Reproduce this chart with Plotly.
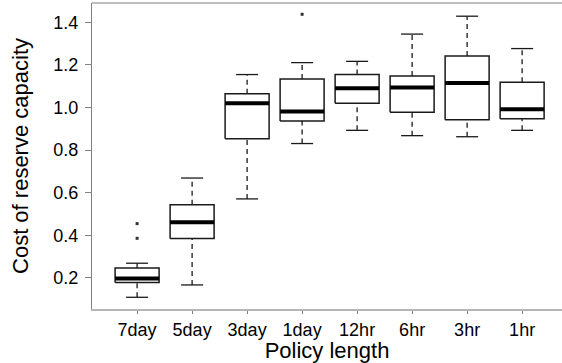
import plotly.graph_objects as go

# Summary statistics per policy length
categories = ["7day", "5day", "3day", "1day", "12hr", "6hr", "3hr", "1hr"]
lower_whisker = [0.109, 0.167, 0.571, 0.831, 0.893, 0.868, 0.863, 0.893]
q1 = [0.178, 0.385, 0.853, 0.937, 1.020, 0.978, 0.943, 0.948]
median = [0.197, 0.461, 1.020, 0.981, 1.091, 1.094, 1.115, 0.992]
q3 = [0.247, 0.543, 1.065, 1.134, 1.155, 1.148, 1.242, 1.119]
upper_whisker = [0.269, 0.669, 1.155, 1.211, 1.217, 1.345, 1.429, 1.277]
outlier_cat = ["7day", "7day", "1day"]
outlier_val = [0.386, 0.455, 1.438]
y_ticks = [0.2, 0.4, 0.6, 0.8, 1.0, 1.2, 1.4]

positions = list(range(1, len(categories) + 1))
half_box = 0.4
half_cap = 0.2
line_col = "#1a1a1a"

fig = go.Figure()

# Dashed whiskers
wx, wy = [], []
for p, lo, a, b, hi in zip(positions, lower_whisker, q1, q3, upper_whisker):
    wx += [p, p, None, p, p, None]
    wy += [lo, a, None, b, hi, None]
fig.add_trace(go.Scatter(x=wx, y=wy, mode="lines",
                         line=dict(color=line_col, width=1.3, dash="5px,4px"),
                         hoverinfo="skip", showlegend=False))

# Whisker caps
cx, cy = [], []
for p, lo, hi in zip(positions, lower_whisker, upper_whisker):
    cx += [p - half_cap, p + half_cap, None, p - half_cap, p + half_cap, None]
    cy += [lo, lo, None, hi, hi, None]
fig.add_trace(go.Scatter(x=cx, y=cy, mode="lines",
                         line=dict(color=line_col, width=1.3),
                         hoverinfo="skip", showlegend=False))

# Boxes
for p, a, b in zip(positions, q1, q3):
    fig.add_trace(go.Scatter(
        x=[p - half_box, p + half_box, p + half_box, p - half_box, p - half_box],
        y=[a, a, b, b, a], mode="lines", fill="toself", fillcolor="white",
        line=dict(color=line_col, width=1.5), hoverinfo="skip", showlegend=False))

# Medians
mx, my = [], []
for p, m in zip(positions, median):
    mx += [p - half_box, p + half_box, None]
    my += [m, m, None]
fig.add_trace(go.Scatter(x=mx, y=my, mode="lines",
                         line=dict(color="black", width=4),
                         hoverinfo="skip", showlegend=False))

# Outliers
fig.add_trace(go.Scatter(
    x=[positions[categories.index(c)] for c in outlier_cat], y=outlier_val,
    mode="markers", marker=dict(symbol="square", size=3, color="#333333"),
    hoverinfo="skip", showlegend=False))

fig.add_shape(type="line", xref="paper", yref="paper", x0=0, x1=1, y0=1, y1=1,
              line=dict(color="#808080", width=1.2))

fig.update_layout(
    width=562, height=363,
    margin=dict(l=92, r=0, t=3, b=54),
    paper_bgcolor="white", plot_bgcolor="white",
    font=dict(family="Liberation Sans, Arial, sans-serif", color="black", size=18),
    xaxis=dict(range=[0.18, 8.725], tickvals=positions, ticktext=categories,
               showgrid=False, zeroline=False, showline=True,
               linecolor="#b4b4b4", linewidth=2, ticks="outside", ticklen=3,
               tickcolor="#808080", tickfont=dict(size=18),
               title=dict(text="Policy length", font=dict(size=22), standoff=2)),
    yaxis=dict(range=[0.054, 1.491], tickvals=y_ticks,
               ticktext=[f"{v:.1f}" for v in y_ticks],
               showgrid=False, zeroline=False, showline=True,
               linecolor="#808080", linewidth=1.2, ticks="outside", ticklen=6,
               tickcolor="#808080", tickfont=dict(size=18), ticklabelstandoff=3,
               title=dict(text="Cost of reserve capacity", font=dict(size=22), standoff=18)),
)

fig.write_html("out.html")
